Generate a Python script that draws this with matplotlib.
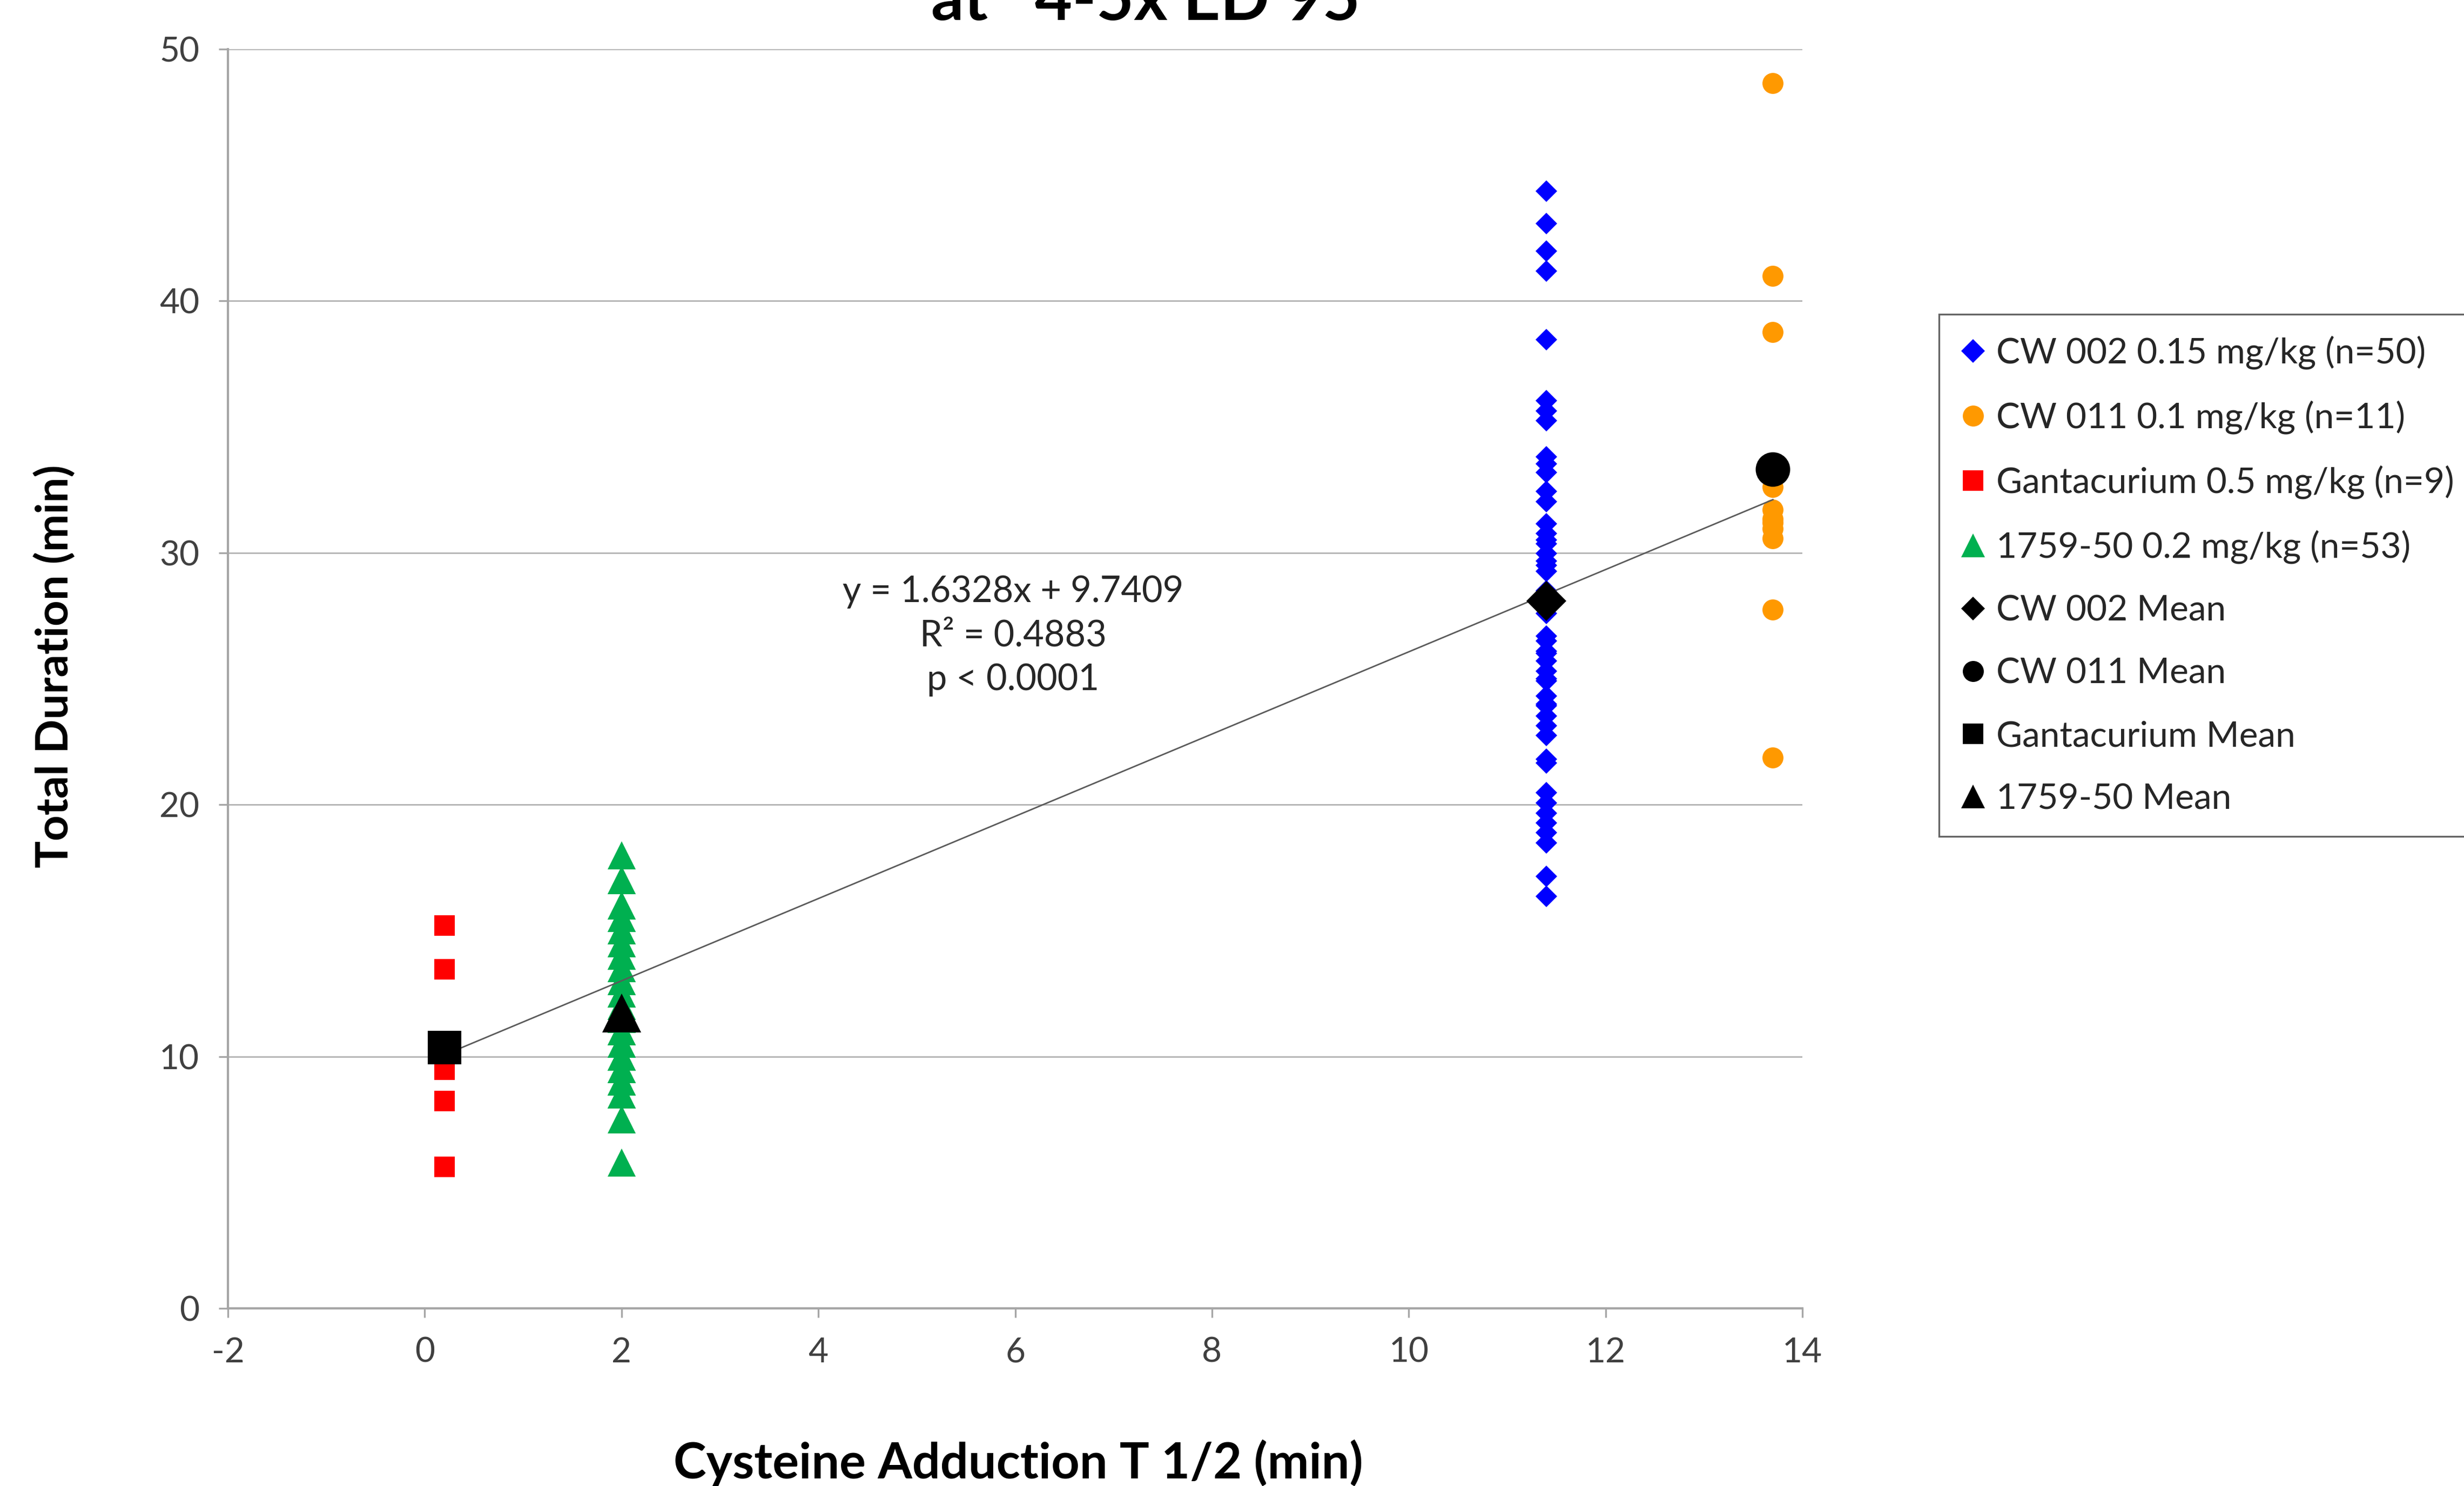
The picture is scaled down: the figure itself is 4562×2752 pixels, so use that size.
import numpy as np
import matplotlib.pyplot as plt

plt.rcParams['font.family'] = ['Lato', 'DejaVu Sans']
plt.rcParams['axes.unicode_minus'] = False

# ---- data ----
cw002_x = 11.4
cw002_y = [44.35, 43.07, 41.98, 41.19, 38.47,
           36.04, 35.64, 35.25, 33.82, 33.53, 33.19, 32.44, 32.04,
           31.15, 30.76, 30.36, 29.97, 29.67, 29.27, 30.5, 29.5,
           28.0, 28.2, 27.8, 28.5, 27.6,
           26.5, 26.1, 25.71, 25.31, 24.92, 24.32, 23.93, 23.53, 23.14, 22.74,
           26.0, 25.0, 24.0, 26.7,
           21.65, 21.8, 20.47, 20.07, 19.67, 19.28, 18.88, 18.49, 17.16, 16.35]

cw011_x = 13.7
cw011_y = [48.64, 40.99, 38.76, 32.6, 31.72, 31.34, 31.2, 30.96, 30.58, 27.75, 21.88]

gant_x = 0.2
gant_y = [15.21, 13.47, 10.5, 10.4, 10.3, 10.0, 9.48, 8.23, 5.61]

c1759_x = 2.0
c1759_y = [18.0, 17.0, 17.0, 16.0, 16.0, 15.5, 15.5, 15.0, 15.0, 14.5, 14.5,
           14.0, 14.0, 13.5, 13.5, 13.0, 13.0, 12.5, 12.5, 12.5,
           12.0, 12.0, 12.0, 12.0, 11.5, 11.5, 11.5, 11.0, 11.0, 11.0, 11.0,
           10.5, 10.5, 10.5, 10.0, 10.0, 10.0, 10.0, 10.0,
           9.5, 9.5, 9.5, 9.5, 9.0, 9.0, 9.0, 9.0, 8.5, 8.5, 8.5, 8.5, 7.5, 5.8]

slope = 1.6328
intercept = 9.7409
fit_text = 'y = 1.6328x + 9.7409\nR² = 0.4883\np < 0.0001'

labels = ['CW 002 0.15 mg/kg (n=50)', 'CW 011 0.1 mg/kg (n=11)',
          'Gantacurium 0.5 mg/kg (n=9)', '1759-50 0.2 mg/kg (n=53)',
          'CW 002 Mean', 'CW 011 Mean', 'Gantacurium Mean', '1759-50 Mean']

fig = plt.figure(figsize=(22.81, 13.76), dpi=200)
ax = fig.add_axes([0.0925, 0.1195, 0.639, 0.8475])

# x, values, marker, colour, point size, mean size, legend size
groups = [
    (cw002_x, cw002_y, 'D', '#0000FF', 10, 19, 11),
    (cw011_x, cw011_y, 'o', '#FF9900', 14, 23, 14),
    (gant_x, gant_y, 's', '#FF0000', 14, 22, 14),
    (c1759_x, c1759_y, '^', '#00B050', 19, 26, 16),
]

handles = []
for x, ys, m, c, ms, mms, lms in groups:
    h, = ax.plot(np.full(len(ys), x), ys, ls='none', marker=m, color=c,
                 markersize=ms, markeredgewidth=0, zorder=3)
    handles.append(h)

xfit = np.array([gant_x, cw011_x])
ax.plot(xfit, slope * xfit + intercept, color='#5a5a5a', lw=1.0, zorder=4)

for x, ys, m, c, ms, mms, lms in groups:
    h, = ax.plot([x], [np.mean(ys)], ls='none', marker=m, color='black',
                 markersize=mms, markeredgewidth=0, zorder=5)
    handles.append(h)

ax.text(5.98, 26.7, fit_text, ha='center', va='center', fontsize=24,
        color='#262626', linespacing=1.39, multialignment='center')

ax.set_xlim(-2, 14)
ax.set_ylim(0, 50)
ax.set_xticks(range(-2, 15, 2))
ax.set_yticks(range(0, 51, 10))
ax.grid(axis='y', color='#b3b3b3', lw=1.0, zorder=0)
ax.set_axisbelow(True)
for s in ['top', 'right']:
    ax.spines[s].set_visible(False)
for s in ['left', 'bottom']:
    ax.spines[s].set_color('#a6a6a6')
    ax.spines[s].set_linewidth(1.5)
ax.tick_params(direction='out', length=6, width=1.2, color='#a6a6a6',
               labelcolor='#404040', labelsize=23, pad=13)

ax.set_xlabel('Cysteine Adduction T 1/2 (min)', fontsize=33, fontweight='bold')
ax.xaxis.set_label_coords(0.502, -0.123)
ax.xaxis.label.set_va('center')
ax.set_ylabel('Total Duration (min)', fontsize=30, fontweight='bold')
ax.yaxis.set_label_coords(-0.11, 0.51)
ax.yaxis.label.set_va('center')

# title sits partly above the top edge, as in the source image
fig.text(0.465, 0.9865, 'at   4-5x ED 95', ha='center', va='baseline',
         fontsize=43, fontweight='bold')

leg = fig.legend(handles, labels, loc='upper left', bbox_to_anchor=(0.787, 0.7885),
                 bbox_transform=fig.transFigure, fontsize=23.7, numpoints=1,
                 handlelength=0.7, handletextpad=0.3, labelspacing=0.87,
                 borderpad=0.6, borderaxespad=0, fancybox=False,
                 edgecolor='#404040', labelcolor='#262626')
leg.get_frame().set_linewidth(1.2)
for h, g in zip(leg.legend_handles, groups + groups):
    h.set_markersize(g[6])

fig.savefig('out.png', dpi=200)
